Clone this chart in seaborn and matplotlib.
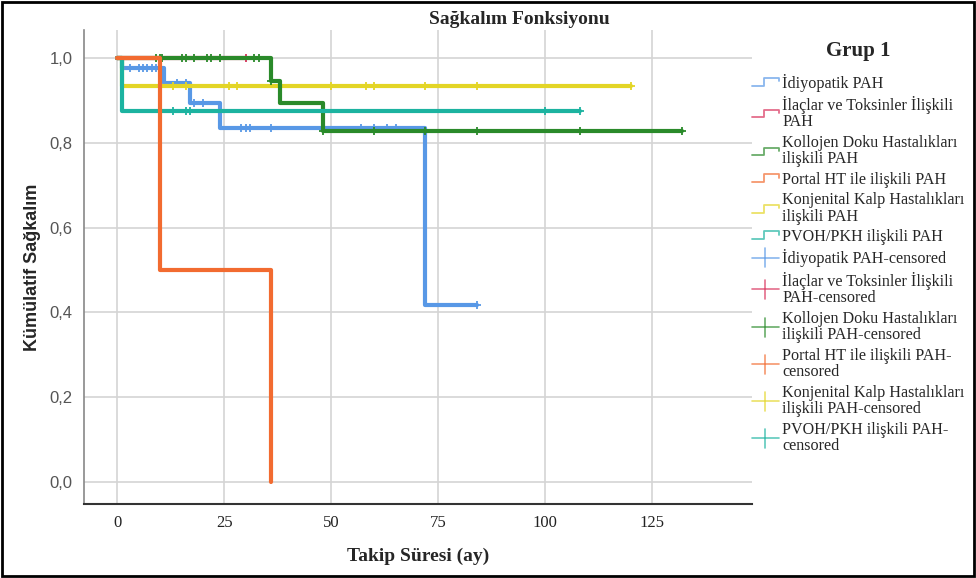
import numpy as np
import matplotlib
matplotlib.use("Agg")
import matplotlib.pyplot as plt
import seaborn as sns
from matplotlib.lines import Line2D
from matplotlib.patches import Rectangle
from matplotlib.legend_handler import HandlerBase

# Kaplan-Meier basamakları (zaman, kümülatif sağkalım) ve sansürlü gözlemler
idiyo_t = [0, 1, 11, 17, 24, 72, 84]
idiyo_s = [1.0, 0.976, 0.941, 0.894, 0.836, 0.418, 0.418]
idiyo_c = [3, 5, 6, 7, 8, 9, 14, 16, 18, 20, 29, 30, 31, 36, 57, 60, 63, 65, 84]

ilac_t = [0, 30]
ilac_s = [1.0, 1.0]
ilac_c = [30]

kollo_t = [0, 36, 38, 48, 132]
kollo_s = [1.0, 0.947, 0.894, 0.828, 0.828]
kollo_c = [9, 10, 10.5, 15, 16, 18, 21, 22, 24, 32, 33, 36, 48, 60, 72, 84, 108, 132]

portal_t = [0, 10, 36]
portal_s = [1.0, 0.5, 0.0]
portal_c = []

konj_t = [0, 1, 120]
konj_s = [1.0, 0.933, 0.933]
konj_c = [10, 13, 16, 26, 28, 50, 58, 60, 72, 84, 120]

pvoh_t = [0, 1, 108]
pvoh_s = [1.0, 0.875, 0.875]
pvoh_c = [13, 16, 17, 100, 108]

names = ["İdiyopatik PAH", "İlaçlar ve Toksinler İlişkili\nPAH",
         "Kollojen Doku Hastalıkları\nilişkili PAH", "Portal HT ile ilişkili PAH",
         "Konjenital Kalp Hastalıkları\nilişkili PAH", "PVOH/PKH ilişkili PAH"]
cens_names = ["İdiyopatik PAH-censored", "İlaçlar ve Toksinler İlişkili\nPAH-censored",
              "Kollojen Doku Hastalıkları\nilişkili PAH-censored", "Portal HT ile ilişkili PAH-\ncensored",
              "Konjenital Kalp Hastalıkları\nilişkili PAH-censored", "PVOH/PKH ilişkili PAH-\ncensored"]
colors = ["#5898e6", "#d9305a", "#2a8a2a", "#f26b30", "#e3d526", "#1cb3a0"]
zorders = [2, 3, 5, 7, 4, 6]

groups = [(idiyo_t, idiyo_s, idiyo_c), (ilac_t, ilac_s, ilac_c), (kollo_t, kollo_s, kollo_c),
          (portal_t, portal_s, portal_c), (konj_t, konj_s, konj_c), (pvoh_t, pvoh_s, pvoh_c)]

sns.set_style("white")
plt.rcParams["font.family"] = ["Liberation Serif", "DejaVu Serif"]

fig = plt.figure(figsize=(9.76, 5.78), dpi=100)
ax = fig.add_axes([0.086, 0.128, 0.6845, 0.82])

for (t, s, c), col, z in zip(groups, colors, zorders):
    sns.lineplot(x=t, y=s, ax=ax, color=col, lw=3, drawstyle="steps-post",
                 estimator=None, sort=False, legend=False, zorder=z)
    if c:
        t_arr = np.array(t)
        cy = [s[np.searchsorted(t_arr, v, side="right") - 1] for v in c]
        sns.scatterplot(x=c, y=cy, ax=ax, color=col, marker="+", s=40,
                        linewidth=1.3, legend=False, zorder=z + 0.5)

ax.set_xlim(-7.8, 148.3)
ax.set_ylim(-0.052, 1.066)
ax.set_xticks([0, 25, 50, 75, 100, 125])
ax.set_yticks([0, 0.2, 0.4, 0.6, 0.8, 1.0])
ax.set_yticklabels(["0,0", "0,2", "0,4", "0,6", "0,8", "1,0"],
                   family="Liberation Sans", fontsize=12, color="#555555")
ax.set_xticklabels(["0", "25", "50", "75", "100", "125"], fontsize=12, color="#222222")
ax.tick_params(length=0, pad=8)
ax.grid(True, color="#d4d4d4", lw=1.2)
ax.set_axisbelow(True)
for side in ["top", "right"]:
    ax.spines[side].set_visible(False)
ax.spines["left"].set_color("#888888")
ax.spines["bottom"].set_color("#333333")
ax.spines["left"].set_linewidth(1.2)
ax.spines["bottom"].set_linewidth(1.5)

ax.set_xlabel("Takip Süresi (ay)", fontsize=14, fontweight="bold", labelpad=12)
ax.set_ylabel("Kümülatif Sağkalım", family="Liberation Sans", fontsize=13,
              fontweight="bold", labelpad=6)
fig.text(0.532, 0.966, "Sağkalım Fonksiyonu", ha="center", va="center",
         fontsize=14, fontweight="bold")


class StepHandler(HandlerBase):
    def create_artists(self, legend, orig_handle, xdescent, ydescent, width, height, fontsize, trans):
        x = np.array([0, .45, .45, 1, 1]) * width - xdescent
        y = np.array([.15, .15, .85, .85, .55]) * height - ydescent
        return [Line2D(x, y, color=orig_handle.get_color(), lw=1.3, alpha=0.7, transform=trans)]


class CensHandler(HandlerBase):
    def create_artists(self, legend, orig_handle, xdescent, ydescent, width, height, fontsize, trans):
        c = orig_handle.get_color()
        h = Line2D([-xdescent, width - xdescent], [height / 2 - ydescent] * 2,
                   color=c, lw=1.2, alpha=0.7, transform=trans)
        v = Line2D([width / 2 - xdescent] * 2, [-0.35 * height - ydescent, 1.35 * height - ydescent],
                   color=c, lw=1.2, alpha=0.7, transform=trans)
        return [h, v]


step_handles = [Line2D([], [], color=col) for col in colors]
cens_handles = [Line2D([], [], color=col, marker="+") for col in colors]
handler_map = {h: StepHandler() for h in step_handles}
handler_map.update({h: CensHandler() for h in cens_handles})

leg = fig.legend(step_handles + cens_handles, names + cens_names,
                 loc="upper left", bbox_to_anchor=(752 / 976, 1 - 41 / 578),
                 frameon=False, fontsize=11.6, handlelength=1.65, handletextpad=0.22,
                 labelspacing=0.27, borderpad=0, borderaxespad=0,
                 title="Grup 1", title_fontproperties={"weight": "bold", "size": 15},
                 handler_map=handler_map)
leg._legend_box.sep = 9
for txt in leg.get_texts():
    txt.set_linespacing(1.05)

fig.add_artist(Rectangle((0.002, 0.003), 0.996, 0.994, transform=fig.transFigure,
                         fill=False, ec="black", lw=2))

fig.savefig("out.png", dpi=100)
